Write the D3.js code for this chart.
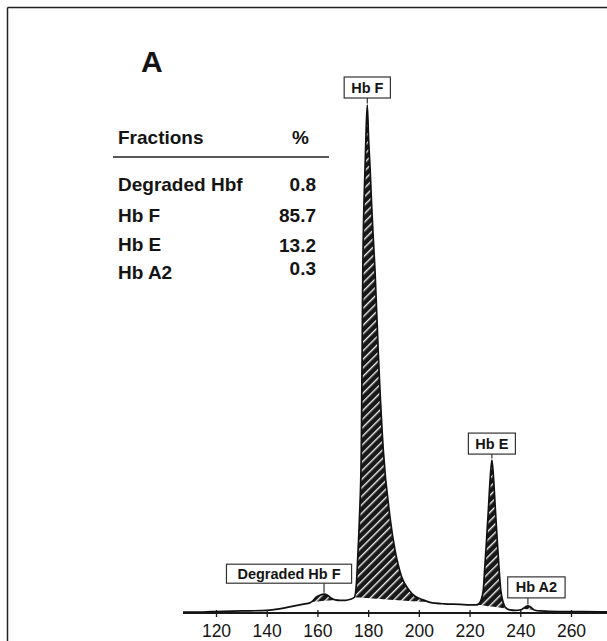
<!DOCTYPE html>
<html>
<head>
<meta charset="utf-8">
<script src="https://cdn.jsdelivr.net/npm/d3@7"></script>
<style>
  html, body { margin: 0; padding: 0; background: #ffffff; }
  svg { display: block; }
  text { font-family: "Liberation Sans", Arial, Helvetica, sans-serif; fill: #141414; }
</style>
</head>
<body>
<svg id="chart" width="607" height="641"></svg>
<script>
// ---------------- DATA ----------------
const xTicks = [120, 140, 160, 180, 200, 220, 240, 260];

const fractionNames = ["Degraded Hbf", "Hb F", "Hb E", "Hb A2"];
const fractionPercents = ["0.8", "85.7", "13.2", "0.3"];

// chromatogram trace: retention time (s) and relative signal
const traceTime = [107, 115, 120, 130, 140, 145, 149, 152, 155, 157, 158.2, 159.5, 161, 162.6, 164, 165.5, 167, 169, 171, 173,
  174.6, 175.4, 176.0, 176.6, 177.3, 177.6, 177.9, 178.75, 179.2, 179.66, 180.2, 180.8, 181.4, 182.0, 182.7, 184.1, 185.97,
  188.61, 190.58, 193.23, 196, 198.47, 201.62, 204.4, 210, 216.2, 220, 222.5, 223.4, 224.5, 225.4, 226.0, 226.7, 227.5, 228.2,
  228.8, 229.4, 230.1, 230.9, 231.6, 232.3, 233.2, 234.0, 235.9, 238, 240.5, 242, 243, 244, 245.5, 248, 255, 265, 275];
const traceSignal = [0.2, 0.2, 0.3, 0.4, 0.5, 0.8, 1.2, 1.5, 1.8, 2.0, 2.4, 3.1, 3.5, 3.7, 3.5, 2.9, 2.6, 2.5, 2.5, 2.7,
  3.1, 6, 12, 19, 32, 50, 67.5, 87.2, 95, 100, 93, 87.2, 80, 74, 67.5, 50, 32.1,
  18.9, 12.4, 7.1, 4.6, 3.3, 2.6, 2.1, 1.8, 1.7, 1.6, 1.6, 1.7, 2.5, 4.5, 9, 14.4, 21, 27,
  30.1, 27, 21, 14.4, 9, 4.5, 2.2, 1.2, 0.6, 0.5, 0.7, 1.2, 1.4, 1.2, 0.6, 0.4, 0.3, 0.3, 0.2];

const peakNames = ["Degraded Hb F", "Hb F", "Hb E", "Hb A2"];
const peakTimes = [162.6, 179.66, 228.8, 243];
const peakStart = [157.6, 174.6, 223.0, 241.0];
const peakEnd = [167.3, 204.4, 235.2, 245.5];

// ---------------- LAYOUT ----------------
const W = 607, H = 641;
const svg = d3.select("#chart");
svg.append("rect").attr("width", W).attr("height", H).attr("fill", "#ffffff");

const x = d3.scaleLinear().domain([120, 260]).range([216, 571]);
const y = d3.scaleLinear().domain([0, 100]).range([613, 105]);

// hatch pattern
const defs = svg.append("defs");
const pat = defs.append("pattern")
  .attr("id", "hatch").attr("patternUnits", "userSpaceOnUse")
  .attr("width", 6).attr("height", 6)
  .attr("patternTransform", "rotate(45)");
pat.append("rect").attr("width", 6).attr("height", 6).attr("fill", "#181818");
pat.append("rect").attr("x", 0).attr("y", 0).attr("width", 1.4).attr("height", 6).attr("fill", "#eeeeee");

// frame (top & left edges visible)
svg.append("line").attr("x1", 7.5).attr("y1", 7.5).attr("x2", W).attr("y2", 7.5)
  .attr("stroke", "#222").attr("stroke-width", 1.5);
svg.append("line").attr("x1", 7.5).attr("y1", 7.5).attr("x2", 7.5).attr("y2", H)
  .attr("stroke", "#222").attr("stroke-width", 1.5);

// panel letter
svg.append("text").attr("x", 141).attr("y", 72).attr("font-size", 30).attr("font-weight", "bold").text("A");

// table
const tbl = svg.append("g");
tbl.append("text").attr("x", 118).attr("y", 144).attr("font-size", 19).attr("font-weight", "bold").text("Fractions");
tbl.append("text").attr("x", 309).attr("y", 144).attr("text-anchor", "end").attr("font-size", 19).attr("font-weight", "bold").text("%");
tbl.append("line").attr("x1", 113).attr("x2", 329).attr("y1", 157).attr("y2", 157).attr("stroke", "#222").attr("stroke-width", 1.5);
const rowNameY = [190.7, 221.7, 251, 279];
const rowValY = [190.7, 221.7, 251.5, 275];
fractionNames.forEach((n, i) => {
  tbl.append("text").attr("x", 118).attr("y", rowNameY[i]).attr("font-size", 19).attr("font-weight", "bold").text(n);
  tbl.append("text").attr("x", 316).attr("y", rowValY[i]).attr("text-anchor", "end").attr("font-size", 19).attr("font-weight", "bold").text(fractionPercents[i]);
});

// trace data points
const pts = traceTime.map((t, i) => ({ t, v: traceSignal[i] }));
const interp = t => {
  for (let i = 0; i < pts.length - 1; i++) {
    if (t >= pts[i].t && t <= pts[i + 1].t) {
      const f = (t - pts[i].t) / (pts[i + 1].t - pts[i].t);
      return pts[i].v + f * (pts[i + 1].v - pts[i].v);
    }
  }
  return 0;
};

// hatched peak areas
peakNames.forEach((n, i) => {
  const a = peakStart[i], b = peakEnd[i];
  const va = interp(a), vb = interp(b);
  const sub = [{ t: a, v: va }].concat(pts.filter(p => p.t > a && p.t < b)).concat([{ t: b, v: vb }]);
  const base = t => va + (vb - va) * (t - a) / (b - a);
  const area = d3.area().curve(d3.curveMonotoneX)
    .x(d => x(d.t)).y0(d => y(base(d.t))).y1(d => y(d.v));
  svg.append("path").datum(sub).attr("d", area).attr("fill", "url(#hatch)").attr("stroke", "none");
});

// axis
const axisY = 613;
svg.append("line").attr("x1", 183).attr("x2", W).attr("y1", axisY).attr("y2", axisY)
  .attr("stroke", "#1a1a1a").attr("stroke-width", 1.8);
const ax = svg.append("g").attr("transform", `translate(0,${axisY})`)
  .call(d3.axisBottom(x).tickValues(xTicks).tickSize(4).tickFormat(d3.format("d")));
ax.select(".domain").remove();
ax.selectAll(".tick line").attr("y1", -3).attr("y2", 4).attr("stroke", "#1a1a1a").attr("stroke-width", 1.3);
ax.selectAll(".tick text").attr("y", 24).attr("dy", null)
  .attr("font-size", 17.5).attr("fill", "#141414")
  .style("font-family", "\"Liberation Sans\", Arial, Helvetica, sans-serif");

// trace line
const line = d3.line().curve(d3.curveMonotoneX).x(d => x(d.t)).y(d => y(d.v));
svg.append("path").datum(pts).attr("d", line).attr("fill", "none")
  .attr("stroke", "#111").attr("stroke-width", 1.7).attr("stroke-linejoin", "round");

// peak labels
const labelDx = [-35, 0, 0, 8.5];
const labelGap = [11, 7, 6, 8];
const labelPad = [11, 7, 7, 8];
const labelH = [19, 21, 21, 21];
peakNames.forEach((n, i) => {
  const px = x(peakTimes[i]);
  const py = y(interp(peakTimes[i]));
  const bottom = py - labelGap[i];
  const g = svg.append("g");
  const txt = g.append("text").attr("font-size", 14.5).attr("font-weight", "bold")
    .attr("text-anchor", "middle").attr("x", px + labelDx[i]).attr("y", bottom - labelH[i] / 2 + 5).text(n);
  const tw = txt.node().getComputedTextLength();
  const bw = tw + 2 * labelPad[i];
  g.insert("rect", "text").attr("x", px + labelDx[i] - bw / 2).attr("y", bottom - labelH[i])
    .attr("width", bw).attr("height", labelH[i])
    .attr("fill", "#fff").attr("stroke", "#333").attr("stroke-width", 1.2);
  g.append("line").attr("x1", px).attr("x2", px).attr("y1", bottom).attr("y2", py - 1.5)
    .attr("stroke", "#333").attr("stroke-width", 1.2);
});
</script>
</body>
</html>
